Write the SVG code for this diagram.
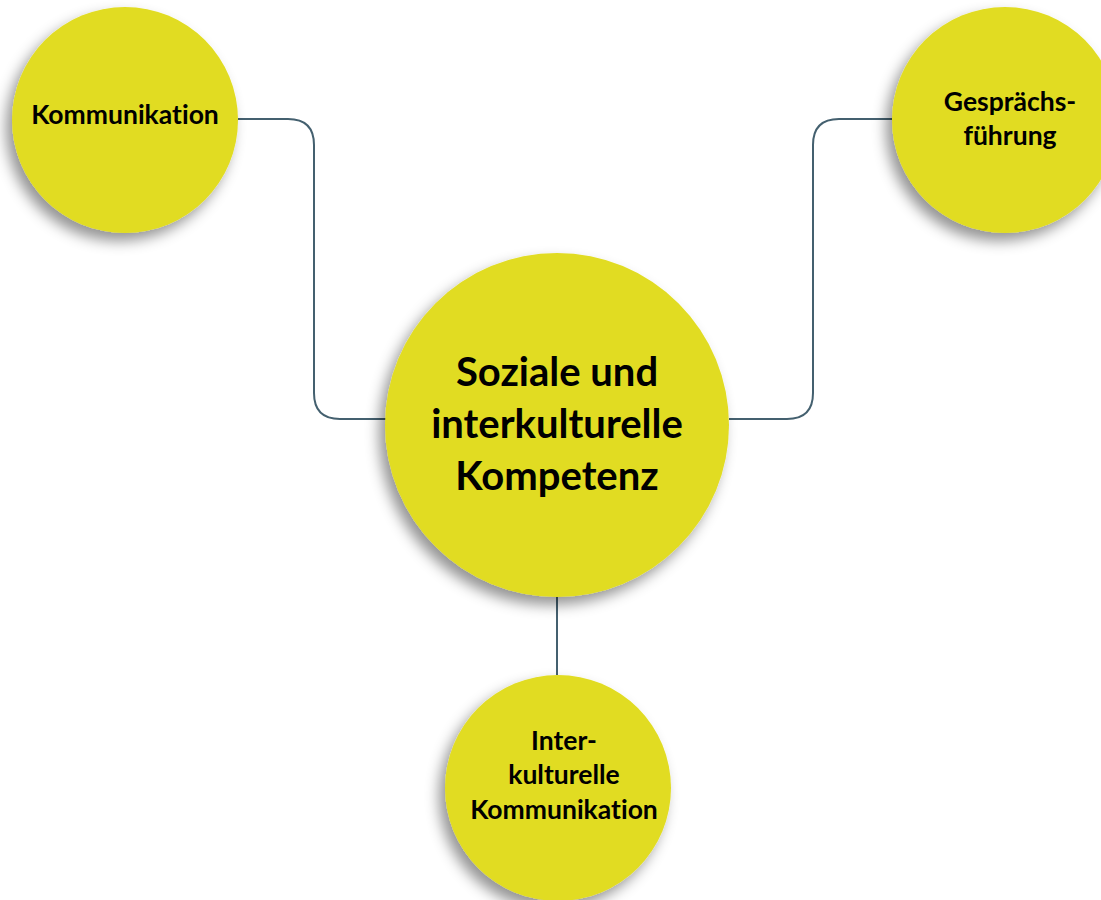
<svg xmlns="http://www.w3.org/2000/svg" width="1101" height="900" viewBox="0 0 1101 900">
<defs>
<filter id="sh" x="-30%" y="-30%" width="160%" height="160%">
<feDropShadow dx="-6" dy="8" stdDeviation="7" flood-color="#000" flood-opacity="0.42"/>
</filter>
<style>
.node{fill:#E1DC22;filter:url(#sh);}
.lbl{font-family:Lato,"Open Sans","Liberation Sans",sans-serif;font-weight:bold;fill:#000;text-anchor:middle;font-variant-ligatures:none;font-feature-settings:"liga" 0;}
.s{font-size:26.5px;}
.l{font-size:40px;}
.conn{fill:none;stroke:#44606F;stroke-width:2;}
</style>
</defs>
<rect width="1101" height="900" fill="#fff"/>
<g id="connectors">
<path class="conn" d="M238 119 H288 Q314 119 314 145 V393 Q314 419 340 419 H386"/>
<path class="conn" d="M729 419 H787 Q813 419 813 393 V145 Q813 119 839 119 H892"/>
<path class="conn" d="M557 597 V675"/>
</g>
<g id="n-kommunikation">
<circle class="node" cx="125" cy="120" r="113"/>
<text class="lbl s" x="125" y="124">Kommunikation</text>
</g>
<g id="n-gespraech">
<circle class="node" cx="1005" cy="120" r="113"/>
<text class="lbl s" x="1010" y="111">Gesprächs-</text>
<text class="lbl s" x="1010" y="145">führung</text>
</g>
<g id="n-center">
<circle class="node" cx="557" cy="425" r="172"/>
<text class="lbl l" x="557" y="386">Soziale und</text>
<text class="lbl l" x="557" y="438">interkulturelle</text>
<text class="lbl l" x="557" y="490">Kompetenz</text>
</g>
<g id="n-inter">
<circle class="node" cx="558" cy="788" r="113"/>
<text class="lbl s" x="564" y="750">Inter-</text>
<text class="lbl s" x="564" y="784">kulturelle</text>
<text class="lbl s" x="564" y="819">Kommunikation</text>
</g>
</svg>
